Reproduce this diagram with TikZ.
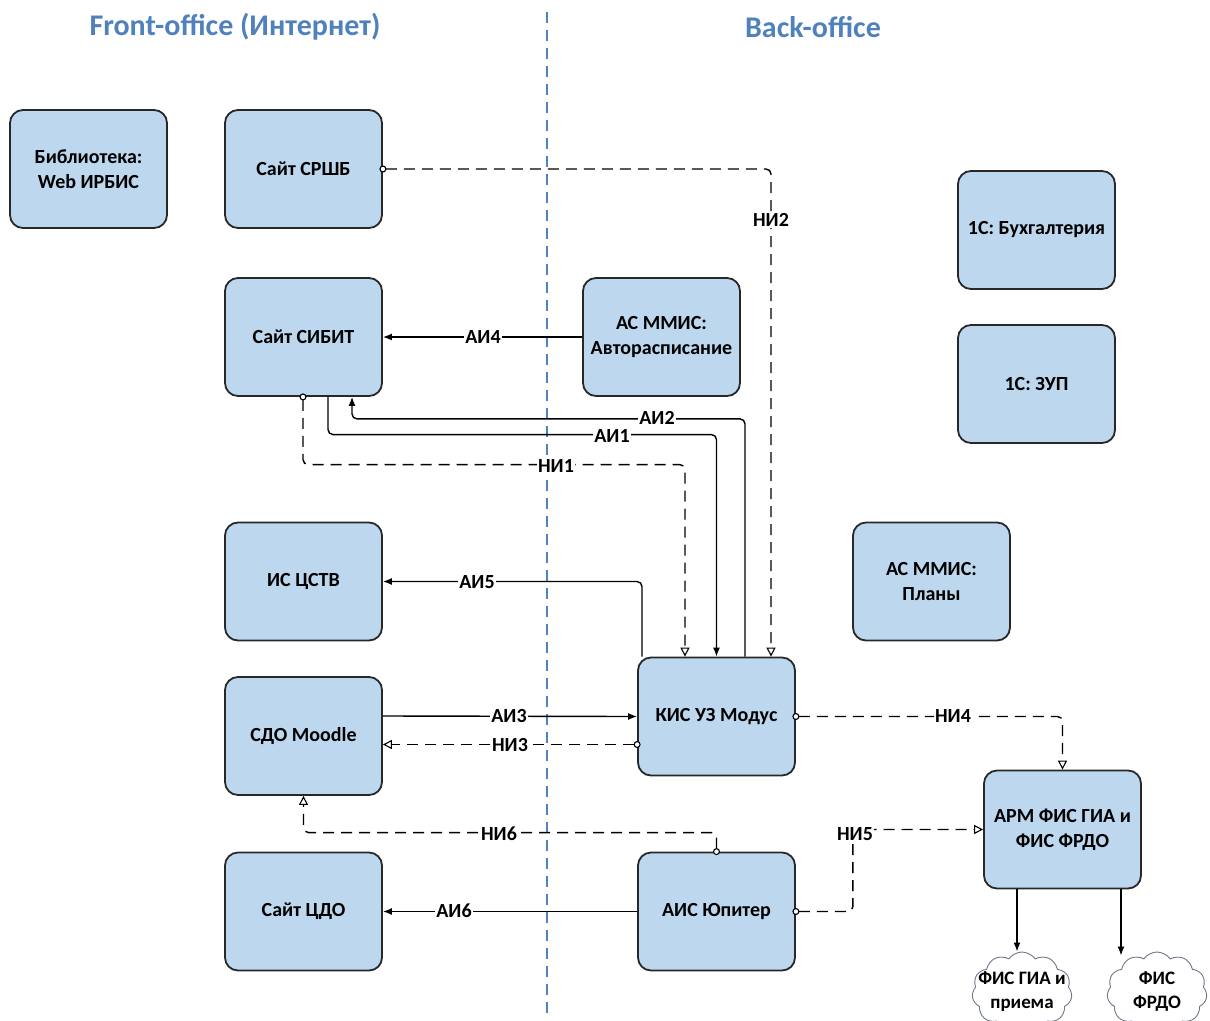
\documentclass[tikz,border=0pt]{standalone}
\usepackage{fontspec}
\setmainfont{Carlito}
\usetikzlibrary{arrows.meta,shapes.symbols}
\definecolor{boxfill}{RGB}{189,215,238}
\definecolor{titleblue}{RGB}{79,129,189}
\definecolor{boxline}{RGB}{40,40,40}
\definecolor{cloudline}{RGB}{110,120,135}
\begin{document}
\begin{tikzpicture}[x=1pt,y=-1pt,
  sysbox/.style={draw=boxline, fill=boxfill, line width=1.8pt, rounded corners=13pt,
    minimum width=157pt, minimum height=118pt, align=center, inner sep=2pt,
    font=\fontsize{20}{25}\selectfont\bfseries},
  titletext/.style={font=\fontsize{30}{34}\selectfont\bfseries, text=titleblue, inner sep=0pt},
  lbl/.style={fill=white, inner sep=1pt, font=\fontsize{20}{22}\selectfont\bfseries},
  ai/.style={draw=black, line width=1.4pt, rounded corners=5pt, -{Latex[length=9pt,width=7pt]}},
  ni/.style={draw=black, line width=1.4pt, rounded corners=5pt, dash pattern=on 11pt off 7pt,
    shorten <=-3.5pt,
    {Circle[open,length=7pt,width=7pt,fill=white,line width=1.1pt]}-{Triangle[open,length=9pt,width=9pt,fill=white,line width=1.1pt]}},
  plain/.style={draw=black, line width=1.4pt, -{Latex[length=9pt,width=7pt]}},
  divider/.style={draw=titleblue, line width=1.3pt, dash pattern=on 11pt off 7pt},
  cloudbox/.style={cloud, cloud puffs=11, cloud puff arc=110, cloud ignores aspect,
    draw=cloudline, fill=white, line width=0.9pt, minimum width=100pt, minimum height=80pt,
    inner xsep=-14pt, inner ysep=-4pt, align=center, font=\fontsize{19}{24}\selectfont\bfseries}
]
\useasboundingbox (0,0) rectangle (1210,1020);

% divider
\coordinate (dtop) at (547,12);
\coordinate (dbot) at (547,1020);
\draw[divider] (dtop) -- (dbot);

% titles
\node[titletext] (tfront) at (235,27) {Front-office (Интернет)};
\node[titletext] (tback) at (813,27) {Back-office};

% boxes
\node[sysbox] (lib) at (88.5,169) {Библиотека:\\Web ИРБИС};
\node[sysbox] (srsb) at (303.5,169) {Сайт СРШБ};
\node[sysbox] (sibit) at (303.5,337) {Сайт СИБИТ};
\node[sysbox] (avto) at (661.5,337) {АС ММИС:\\Авторасписание};
\node[sysbox] (buh) at (1036.5,230) {1С: Бухгалтерия};
\node[sysbox] (zup) at (1036.5,384) {1С: ЗУП};
\node[sysbox] (plany) at (931.5,581.5) {АС ММИС:\\Планы};
\node[sysbox] (cstv) at (303.5,581.5) {ИС ЦСТВ};
\node[sysbox] (moodle) at (303.5,736) {СДО Moodle};
\node[sysbox] (kis) at (716.5,716.5) {КИС УЗ Модус};
\node[sysbox] (cdo) at (303.5,911.5) {Сайт ЦДО};
\node[sysbox] (jup) at (716.5,911.5) {АИС Юпитер};
\node[sysbox] (arm) at (1062.5,829.5) {АРМ ФИС ГИА и\\ФИС ФРДО};

% clouds
\node[cloudbox] (c1) at (1022,992) {ФИС ГИА и\\приема};
\node[cloudbox] (c2) at (1157,992) {ФИС\\ФРДО};

% connectors
\draw[ni] (srsb.east) -| ([xshift=54.5pt]kis.north);
\draw[ai] (avto.west) -- (sibit.east);
\draw[ai] ([xshift=28.5pt]kis.north) |- ([xshift=48.5pt,yshift=-22pt]sibit.south) -- ([xshift=48.5pt]sibit.south);
\draw[ai] ([xshift=24.5pt]sibit.south) |- ([yshift=222pt]kis.north) -- (kis.north);
\draw[ni] ([xshift=-0.5pt]sibit.south) |- ([xshift=-31.5pt,yshift=192pt]kis.north) -- ([xshift=-31.5pt]kis.north);
\draw[ai] ([xshift=-74.5pt]kis.north) |- (cstv.east);
\draw[ai] ([yshift=20pt]moodle.east) -- (kis.west);
\draw[ni] ([yshift=-28pt]kis.west) -- ([yshift=-8.5pt]moodle.east);
\draw[ni] (kis.east) -| (arm.north);
\draw[ni] (jup.east) -- ++(57,0) |- (arm.west);
\draw[ni] (jup.north) -- ++(0,-19) -| (moodle.south);
\draw[ai] (jup.west) -- (cdo.east);
\coordinate (a1) at ([xshift=-45.5pt]arm.south);
\coordinate (a2) at ([xshift=58.5pt]arm.south);
\draw[plain] (a1) -- (a1 |- c1.north);
\draw[plain] (a2) -- ([yshift=-4pt]a2 |- c2.north);

% labels
\node[lbl] (lni2) at (771,220) {НИ2};
\node[lbl] (lai4) at (483,337) {АИ4};
\node[lbl] (lai2) at (657,418) {АИ2};
\node[lbl] (lai1) at (612,436) {АИ1};
\node[lbl] (lni1) at (556,466) {НИ1};
\node[lbl] (lai5) at (477,582) {АИ5};
\node[lbl] (lai3) at (509,716) {АИ3};
\node[lbl] (lni3) at (510,745) {НИ3};
\node[lbl] (lni4) at (953,716) {НИ4};
\node[lbl] (lni5) at (855,834) {НИ5};
\node[lbl] (lni6) at (499,834) {НИ6};
\node[lbl] (lai6) at (454,911) {АИ6};
\end{tikzpicture}
\end{document}
